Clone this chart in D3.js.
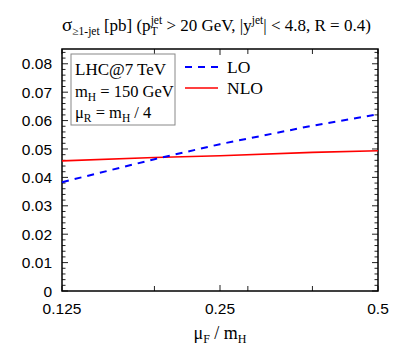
<!DOCTYPE html>
<meta charset="utf-8">
<script src="https://d3js.org/d3.v7.min.js"></script>
<style>
body { margin: 0; background: #fff; }
.serif { font-family: "Liberation Serif", "DejaVu Serif", serif; }
.sans { font-family: "Liberation Sans", Arial, sans-serif; }
</style>
<div id="my_dataviz"></div>
<script>

// data
var muF = [0.125, 0.1875, 0.25, 0.375, 0.5];
var sigmaLO = [0.0383, 0.0464, 0.0517, 0.0582, 0.0622];
var sigmaNLO = [0.0458, 0.0470, 0.0476, 0.0488, 0.0494];
var xTickLabels = [0.125, 0.25, 0.5];
var xMinorTicks = [0.1875, 0.2825, 0.375];
var yTickLabels = [0, 0.01, 0.02, 0.03, 0.04, 0.05, 0.06, 0.07, 0.08];

var W = 409, H = 363;
var margin = {top: 49, right: 31, bottom: 72, left: 62},
    width = W - margin.left - margin.right,
    height = H - margin.top - margin.bottom;

var root = d3.select("#my_dataviz").append("svg")
  .attr("width", W)
  .attr("height", H);

var svg = root.append("g")
  .attr("transform", "translate(" + margin.left + "," + margin.top + ")");

var x = d3.scaleLog().domain([0.125, 0.5]).range([0, width]);
var y = d3.scaleLinear().domain([0, 0.0852]).range([height, 0]);

// minor y ticks every 0.002
var yMinor = d3.range(0, 0.0851, 0.002).filter(function(v){
  return Math.abs(v / 0.01 - Math.round(v / 0.01)) > 1e-6;
});

// y ticks, left and right, pointing in
[0, width].forEach(function(x0, side) {
  var dir = side === 0 ? 1 : -1;
  svg.selectAll(null).data(yTickLabels).enter().append("line")
    .attr("x1", x0).attr("x2", x0 + dir * 6)
    .attr("y1", function(d){ return y(d); }).attr("y2", function(d){ return y(d); })
    .attr("stroke", "#222").attr("stroke-width", 1);
  svg.selectAll(null).data(yMinor).enter().append("line")
    .attr("x1", x0).attr("x2", x0 + dir * 3.5)
    .attr("y1", function(d){ return y(d); }).attr("y2", function(d){ return y(d); })
    .attr("stroke", "#222").attr("stroke-width", 1);
});

// x ticks, bottom and top
[height, 0].forEach(function(y0, side) {
  var dir = side === 0 ? -1 : 1;
  svg.selectAll(null).data(xTickLabels.concat(xMinorTicks)).enter().append("line")
    .attr("x1", function(d){ return x(d); }).attr("x2", function(d){ return x(d); })
    .attr("y1", y0).attr("y2", function(d){ return y0 + dir * (d === 0.25 ? 6 : 5); })
    .attr("stroke", "#222").attr("stroke-width", 1);
});

// tick labels
svg.selectAll(null).data(yTickLabels).enter().append("text")
  .attr("class", "sans")
  .attr("x", -10)
  .attr("y", function(d){ return y(d); })
  .attr("dy", "0.36em")
  .attr("text-anchor", "end")
  .style("font-size", "15.5px")
  .text(function(d){ return d === 0 ? "0" : d3.format(".2f")(d); });

svg.selectAll(null).data(xTickLabels).enter().append("text")
  .attr("class", "sans")
  .attr("x", function(d){ return x(d); })
  .attr("y", height + 23)
  .attr("text-anchor", "middle")
  .style("font-size", "15.5px")
  .text(function(d){ return String(d); });

// frame
svg.append("rect")
  .attr("x", 0).attr("y", 0).attr("width", width).attr("height", height)
  .attr("fill", "none").attr("stroke", "#000").attr("stroke-width", 1.5);

// curves
var line = d3.line()
  .x(function(d){ return x(d[0]); })
  .y(function(d){ return y(d[1]); });

svg.append("path")
  .datum(d3.zip(muF, sigmaNLO))
  .attr("d", line)
  .attr("fill", "none").attr("stroke", "#f00").attr("stroke-width", 1.6);

svg.append("path")
  .datum(d3.zip(muF, sigmaLO))
  .attr("d", line)
  .attr("fill", "none").attr("stroke", "#0000ff").attr("stroke-width", 2)
  .attr("stroke-dasharray", "7,6");

// info box
var box = svg.append("g").attr("transform", "translate(9,5)");
box.append("rect")
  .attr("x", 0).attr("y", 0).attr("width", 104).attr("height", 71)
  .attr("fill", "#fff").attr("stroke", "#888").attr("stroke-width", 1);
box.append("text").attr("class", "serif").attr("x", 4).attr("y", 21)
  .style("font-size", "17px").text("LHC@7 TeV");
var t2 = box.append("text").attr("class", "serif").attr("x", 4).attr("y", 43)
  .style("font-size", "16.5px");
t2.append("tspan").text("m");
t2.append("tspan").attr("dy", 4).style("font-size", "11.5px").text("H");
t2.append("tspan").attr("dy", -4).text(" = 150 GeV");
var t3 = box.append("text").attr("class", "serif").attr("x", 4).attr("y", 64)
  .style("font-size", "16.5px");
t3.append("tspan").text("\u03bc");
t3.append("tspan").attr("dy", 4).style("font-size", "11.5px").text("R");
t3.append("tspan").attr("dy", -4).text(" = m");
t3.append("tspan").attr("dy", 4).style("font-size", "11.5px").text("H");
t3.append("tspan").attr("dy", -4).text(" / 4");

// legend
var legend = svg.append("g").attr("transform", "translate(123,0)");
legend.append("line").attr("x1", 0).attr("x2", 33).attr("y1", 18).attr("y2", 18)
  .attr("stroke", "#0000ff").attr("stroke-width", 2).attr("stroke-dasharray", "7,6");
legend.append("text").attr("class", "serif").attr("x", 42).attr("y", 24)
  .style("font-size", "17.5px").text("LO");
legend.append("line").attr("x1", 0).attr("x2", 33).attr("y1", 39).attr("y2", 39)
  .attr("stroke", "#f00").attr("stroke-width", 1.6);
legend.append("text").attr("class", "serif").attr("x", 42).attr("y", 45)
  .style("font-size", "17.5px").text("NLO");

// title, laid out piece by piece (stacked sup/sub on p_T)
var titleParts = [
  {t: "\u03c3", size: 19, dy: 0},
  {t: "\u22651-jet", size: 11.5, dy: 4},
  {t: " [pb] (p", size: 17, dy: 0},
  {t: "jet", size: 11.5, dy: -7, stack: true},
  {t: "T", size: 11.5, dy: 4},
  {t: " > 20 GeV, |y", size: 17, dy: 0},
  {t: "jet", size: 11.5, dy: -7},
  {t: "| < 4.8, R = 0.4)", size: 17, dy: 0}
];
var tx = 62, tBase = 31, stackW = 0;
titleParts.forEach(function(p) {
  var el = root.append("text").attr("class", "serif")
    .attr("x", tx).attr("y", tBase + p.dy)
    .attr("xml:space", "preserve")
    .style("white-space", "pre")
    .style("font-size", p.size + "px")
    .text(p.t);
  var w = el.node().getComputedTextLength();
  if (p.stack) {
    stackW = w;
  } else {
    tx += Math.max(w, stackW);
    stackW = 0;
  }
});

// x axis title
var xt = root.append("text").attr("class", "serif")
  .attr("x", margin.left + x(0.25)).attr("y", 339)
  .attr("text-anchor", "middle").style("font-size", "18px");
xt.append("tspan").text("\u03bc");
xt.append("tspan").attr("dy", 4).style("font-size", "12px").text("F");
xt.append("tspan").attr("dy", -4).text(" / m");
xt.append("tspan").attr("dy", 4).style("font-size", "12px").text("H");

</script>
